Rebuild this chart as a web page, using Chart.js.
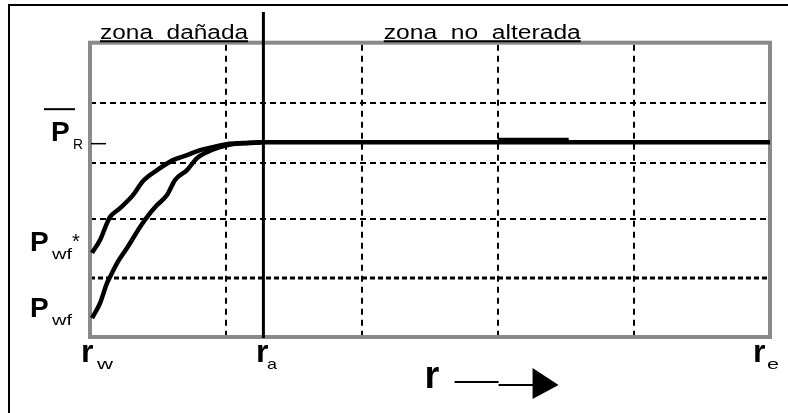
<!DOCTYPE html>
<html>
<head>
<meta charset="utf-8">
<script src="https://cdn.jsdelivr.net/npm/chart.js@4.4.1/dist/chart.umd.min.js"></script>
<style>
  html, body { margin: 0; padding: 0; background: #fff; }
  #wrap { width: 788px; height: 413px; position: relative; }
</style>
</head>
<body>
<div id="wrap"><canvas id="c"></canvas></div>
<script>
// Radius (r) on x, pressure on y, both in grid-division units (5 x 5 divisions).

// Ideal profile without damage: starts at Pwf* and joins the reservoir pressure at r_a
const rIdeal = [0.015, 0.074, 0.125, 0.147, 0.221, 0.316, 0.39, 0.493, 0.61, 0.713, 0.81, 0.904, 1.007, 1.125, 1.25, 1.275];
const pIdeal = [1.43, 1.647, 1.935, 2.037, 2.19, 2.41, 2.65, 2.835, 3.005, 3.09, 3.175, 3.226, 3.277, 3.294, 3.31, 3.31];

// Actual profile with damaged zone: starts at Pwf, flat at P_R in the unaltered zone
const rActual = [0.015, 0.074, 0.125, 0.147, 0.199, 0.272, 0.368, 0.419, 0.493, 0.566, 0.625, 0.713, 0.787, 0.86, 0.956, 1.051, 1.176, 1.275, 2.0, 3.0, 4.0, 5.0];
const pActual = [0.32, 0.577, 0.917, 1.019, 1.256, 1.511, 1.868, 2.037, 2.241, 2.411, 2.666, 2.835, 3.039, 3.141, 3.226, 3.277, 3.294, 3.31, 3.31, 3.31, 3.31, 3.31];

// Small raised stretch on the flat line
const rBump = [3.0, 3.52];
const pBump = [3.35, 3.35];

// Dashed grid positions
const gridR = [1, 2, 3, 4];
const gridP = [1, 2, 2.96, 3.97];

// Radius marks along the bottom: r_w, r_a, r_e
const radiusTicks = [0, 1.275, 5];
const radiusSubs = ['w', 'a', 'e'];

// Pressure marks along the left: P_R (average), Pwf*, Pwf
const pressureTicks = [3.31, 1.43, 0.32];
const pressureSubs = ['R', 'wf', 'wf'];
const pressureSups = ['', '*', ''];

// Zone captions above the plot
const zoneLabels = ['zona  dañada', 'zona  no  alterada'];
const zoneStart = [0.074, 2.16];
const axisTitle = 'r';

const FONT = '"Liberation Sans", Arial, Helvetica, sans-serif';
const font = (w, s) => `${w} ${s}px ${FONT}`;

function fitText(ctx, text, x, y, width, f) {
  ctx.font = f;
  const w = ctx.measureText(text).width;
  ctx.save();
  ctx.translate(x, y);
  ctx.scale(width / w, 1);
  ctx.fillText(text, 0, 0);
  ctx.restore();
}

const decor = {
  id: 'decor',
  beforeDraw(chart) {
    const { ctx, width, height } = chart;
    ctx.save();
    ctx.fillStyle = '#fff';
    ctx.fillRect(0, 0, width, height);
    // outer frame (top and left edges)
    ctx.strokeStyle = '#000';
    ctx.lineWidth = 2;
    ctx.beginPath();
    ctx.moveTo(9, height);
    ctx.lineTo(9, 5);
    ctx.lineTo(width, 5);
    ctx.stroke();
    ctx.restore();
  },
  beforeDatasetsDraw(chart) {
    const { ctx, chartArea: a, scales: { x, y } } = chart;
    ctx.save();
    ctx.strokeStyle = '#000';
    // vertical dashed lines
    ctx.lineWidth = 2;
    ctx.setLineDash([6, 5]);
    gridR.forEach(v => {
      const px = Math.round(x.getPixelForValue(v));
      ctx.beginPath();
      ctx.moveTo(px, a.top + 2);
      ctx.lineTo(px, a.bottom);
      ctx.stroke();
    });
    // horizontal dashed lines (lowest one heavier)
    gridP.forEach((v, i) => {
      const py = Math.round(y.getPixelForValue(v));
      ctx.lineWidth = i === 0 ? 3 : 2;
      ctx.setLineDash(i === 0 ? [5, 3] : [6, 4]);
      ctx.beginPath();
      ctx.moveTo(a.left, py);
      ctx.lineTo(a.right, py);
      ctx.stroke();
    });
    ctx.setLineDash([]);
    // grey plot frame
    ctx.strokeStyle = '#8a8a8a';
    ctx.lineWidth = 4;
    ctx.strokeRect(a.left, a.top, a.right - a.left, a.bottom - a.top);
    ctx.restore();
  },
  afterDatasetsDraw(chart) {
    const { ctx, chartArea: a, scales: { x, y } } = chart;
    ctx.save();
    ctx.fillStyle = '#000';
    ctx.strokeStyle = '#000';
    ctx.textBaseline = 'alphabetic';
    ctx.textAlign = 'left';

    // boundary of the damaged zone at r_a
    const ra = x.getPixelForValue(radiusTicks[1]);
    ctx.lineWidth = 3;
    ctx.beginPath();
    ctx.moveTo(ra, 12);
    ctx.lineTo(ra, a.bottom + 1);
    ctx.stroke();

    // zone captions, underlined
    const zoneWidths = [148, 197];
    zoneLabels.forEach((t, i) => {
      const sx = x.getPixelForValue(zoneStart[i]);
      fitText(ctx, t, sx, a.top - 3.5, zoneWidths[i], font('normal', 20));
      ctx.lineWidth = 2;
      ctx.beginPath();
      ctx.moveTo(sx, a.top - 1.5);
      ctx.lineTo(sx + zoneWidths[i], a.top - 1.5);
      ctx.stroke();
    });

    // pressure labels
    const pX = [51, 30, 30];
    pressureTicks.forEach((v, i) => {
      const py = y.getPixelForValue(v);
      ctx.font = font('bold', 28);
      ctx.fillText('P', pX[i], py - 1.5);
      const subX = i === 0 ? 73 : 52;
      const subW = i === 0 ? 10 : 20;
      fitText(ctx, pressureSubs[i], subX, py + 6.5, subW, font('normal', 15));
      if (pressureSups[i]) {
        ctx.font = font('normal', 20);
        ctx.fillText(pressureSups[i], 72, py - 5);
      }
    });
    // average-pressure bar over P_R and its tick on the frame
    const pr = y.getPixelForValue(pressureTicks[0]);
    ctx.lineWidth = 2;
    ctx.beginPath();
    ctx.moveTo(44, pr - 33);
    ctx.lineTo(75, pr - 33);
    ctx.stroke();
    ctx.lineWidth = 1.5;
    ctx.beginPath();
    ctx.moveTo(a.left + 1, pr + 1.5);
    ctx.lineTo(a.left + 16, pr + 1.5);
    ctx.stroke();

    // radius labels
    const rOff = [-9, -7.5, -17];
    const sOff = [7, 3.6, -3];
    const sW = [16, 10, 12];
    radiusTicks.forEach((v, i) => {
      const px = x.getPixelForValue(v);
      ctx.font = font('bold', 32);
      ctx.fillText('r', px + rOff[i], a.bottom + 25);
      fitText(ctx, radiusSubs[i], px + sOff[i], a.bottom + 32, sW[i], font('normal', 15));
    });

    // axis title with arrow
    const tx = x.getPixelForValue(2.46);
    ctx.font = font('bold', 38);
    ctx.fillText(axisTitle, tx, a.bottom + 51);
    ctx.lineWidth = 2;
    ctx.beginPath();
    ctx.moveTo(tx + 30, a.bottom + 45);
    ctx.lineTo(tx + 74, a.bottom + 45);
    ctx.moveTo(tx + 74, a.bottom + 48);
    ctx.lineTo(tx + 110, a.bottom + 48);
    ctx.stroke();
    ctx.beginPath();
    ctx.moveTo(tx + 108, a.bottom + 31);
    ctx.lineTo(tx + 108, a.bottom + 62);
    ctx.lineTo(tx + 134, a.bottom + 48);
    ctx.closePath();
    ctx.fill();
    ctx.restore();
  }
};

const toPts = (xs, ys) => xs.map((v, i) => ({ x: v, y: ys[i] }));
const lineStyle = {
  borderColor: '#000',
  borderWidth: 4.5,
  pointRadius: 0,
  fill: false,
  cubicInterpolationMode: 'monotone',
  borderJoinStyle: 'round'
};

new Chart(document.getElementById('c'), {
  type: 'line',
  data: {
    datasets: [
      { label: 'Pwf*', data: toPts(rIdeal, pIdeal), ...lineStyle },
      { label: 'Pwf', data: toPts(rActual, pActual), ...lineStyle },
      { label: 'bump', data: toPts(rBump, pBump), ...lineStyle, borderWidth: 4 }
    ]
  },
  options: {
    responsive: true,
    maintainAspectRatio: false,
    animation: false,
    events: [],
    layout: { padding: { left: 90, top: 42.7, right: 18, bottom: 76 } },
    plugins: { legend: { display: false }, tooltip: { enabled: false } },
    scales: {
      x: { type: 'linear', min: 0, max: 5, display: false },
      y: { type: 'linear', min: 0, max: 5, display: false }
    }
  },
  plugins: [decor]
});
</script>
</body>
</html>
